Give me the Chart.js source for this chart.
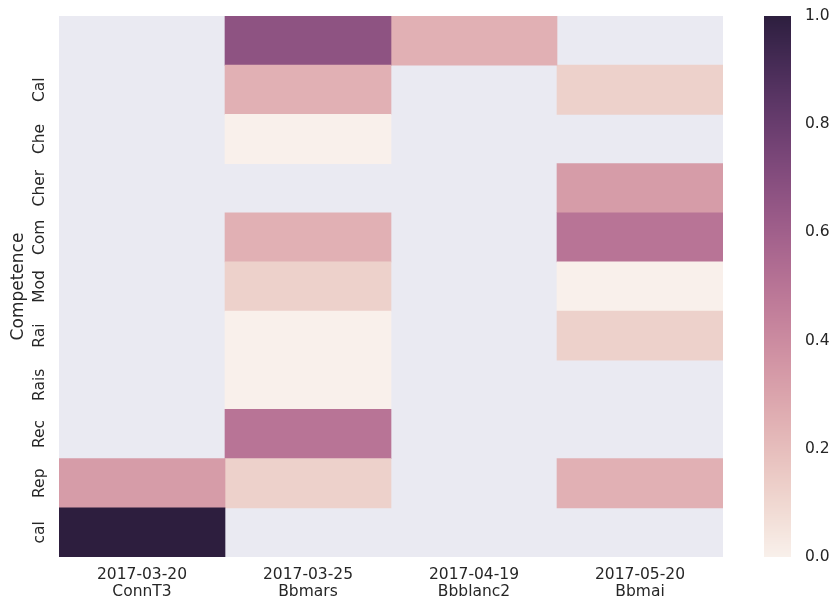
<!DOCTYPE html>
<html>
<head>
<meta charset="utf-8">
<script src="https://cdn.jsdelivr.net/npm/chart.js@4/dist/chart.umd.min.js"></script>
<style>
  html, body { margin: 0; padding: 0; background: #ffffff; }
  canvas { display: block; }
</style>
</head>
<body>
<canvas id="heatChart" width="833" height="603"></canvas>
<script>
// rows (top to bottom) and columns of the heatmap
const rowLabels = ["", "Cal", "Che", "Cher", "Com", "Mod", "Rai", "Rais", "Rec", "Rep", "cal"];
const colDates = ["2017-03-20", "2017-03-25", "2017-04-19", "2017-05-20"];
const colNames = ["ConnT3", "Bbmars", "Bbblanc2", "Bbmai"];

// one array per column, null = no value (shown as background)
const connT3 = [null, null, null, null, null, null, null, null, null, 0.33, 1.0];
const bbmars = [0.67, 0.25, 0.0, null, 0.25, 0.125, 0.0, 0.0, 0.5, 0.125, null];
const bbblanc2 = [0.25, null, null, null, null, null, null, null, null, null, null];
const bbmai = [null, 0.125, null, 0.33, 0.5, 0.0, 0.125, null, null, 0.25, null];

const columns = [connT3, bbmars, bbblanc2, bbmai];
const cbTicks = [0, 0.2, 0.4, 0.6, 0.8, 1.0];

const textColor = "#262626";
const fontFamily = "'DejaVu Sans', sans-serif";

// seaborn cubehelix_palette(light=.95, as_cmap=True)
function cubehelix(v) {
  const light = 0.95, dark = 0.15, start = 0, rot = 0.4, hue = 0.8;
  const t = Math.min(1, Math.max(0, v));
  const x = light + (dark - light) * t;
  const a = (hue * x * (1 - x)) / 2;
  const phi = 2 * Math.PI * (start / 3 + rot * x);
  const c = Math.cos(phi), s = Math.sin(phi);
  const ch = (p0, p1) => Math.round(255 * Math.min(1, Math.max(0, x + a * (p0 * c + p1 * s))));
  return `rgb(${ch(-0.14861, 1.78277)}, ${ch(-0.29227, -0.90649)}, ${ch(1.97294, 0.0)})`;
}

const datasets = columns.map((vals, c) => ({
  label: colNames[c],
  data: vals.map((v) => (v === null ? null : [c, c + 1])),
  backgroundColor: vals.map((v) => (v === null ? "rgba(0,0,0,0)" : cubehelix(v))),
  borderWidth: 0,
  grouped: false,
  barPercentage: 1,
  categoryPercentage: 1,
}));

// keep the axes from pushing the plot area around
function noPadding(scale) {
  scale.paddingTop = 0;
  scale.paddingBottom = 0;
  scale.paddingLeft = 0;
  scale.paddingRight = 0;
}

const heatBackground = {
  id: "heatBackground",
  beforeDraw(chart) {
    const { ctx, chartArea } = chart;
    ctx.save();
    ctx.fillStyle = "#ffffff";
    ctx.fillRect(0, 0, chart.width, chart.height);
    ctx.fillStyle = "#eaeaf2";
    ctx.fillRect(chartArea.left, chartArea.top, chartArea.right - chartArea.left, chartArea.bottom - chartArea.top);
    ctx.restore();
  },
  afterDraw(chart) {
    // colorbar next to the plot
    const cb = chart.scales.cb;
    const ctx = chart.ctx;
    const x0 = cb.left + 41;
    const w = 27;
    ctx.save();
    for (let y = Math.floor(cb.top); y < Math.ceil(cb.bottom); y++) {
      ctx.fillStyle = cubehelix(cb.getValueForPixel(y + 0.5));
      ctx.fillRect(x0, y, w, 1);
    }
    ctx.restore();
  },
};

new Chart(document.getElementById("heatChart").getContext("2d"), {
  type: "bar",
  data: { labels: rowLabels, datasets: datasets },
  options: {
    indexAxis: "y",
    responsive: false,
    animation: false,
    devicePixelRatio: 1,
    layout: { padding: { top: 16, left: 0, right: 0, bottom: 0 } },
    plugins: {
      legend: { display: false },
      tooltip: { enabled: false },
    },
    scales: {
      x: {
        type: "linear",
        min: 0,
        max: 4,
        grid: { display: false, drawTicks: false },
        border: { display: false },
        afterBuildTicks: (scale) => {
          scale.ticks = colDates.map((d, i) => ({ value: i + 0.5 }));
        },
        afterFit: (scale) => {
          scale.height = 46;
          noPadding(scale);
        },
        ticks: {
          autoSkip: false,
          maxRotation: 0,
          minRotation: 0,
          padding: 9,
          color: textColor,
          font: { family: fontFamily, size: 15.5, lineHeight: 1.1 },
          callback: (value) => {
            const i = Math.floor(value);
            return [colDates[i], colNames[i]];
          },
        },
      },
      y: {
        type: "category",
        offset: true,
        grid: { display: false, drawTicks: false },
        border: { display: false },
        afterFit: (scale) => {
          scale.width = 59;
          noPadding(scale);
        },
        ticks: {
          autoSkip: false,
          minRotation: 90,
          maxRotation: 90,
          crossAlign: "center",
          padding: 1,
          color: textColor,
          font: { family: fontFamily, size: 15.5 },
        },
        title: {
          display: true,
          text: "Competence",
          color: textColor,
          font: { family: fontFamily, size: 17 },
          padding: { top: 8, bottom: 0 },
        },
      },
      cb: {
        axis: "y",
        type: "linear",
        position: "right",
        offset: false,
        min: 0,
        max: 1,
        grid: { display: false, drawTicks: false, offset: false },
        border: { display: false },
        afterBuildTicks: (scale) => {
          scale.ticks = cbTicks.map((v) => ({ value: v }));
        },
        afterFit: (scale) => {
          scale.width = 110;
          noPadding(scale);
        },
        ticks: {
          padding: 82,
          color: textColor,
          font: { family: fontFamily, size: 15.5 },
          callback: (value) => value.toFixed(1),
        },
      },
    },
  },
  plugins: [heatBackground],
});
</script>
</body>
</html>
